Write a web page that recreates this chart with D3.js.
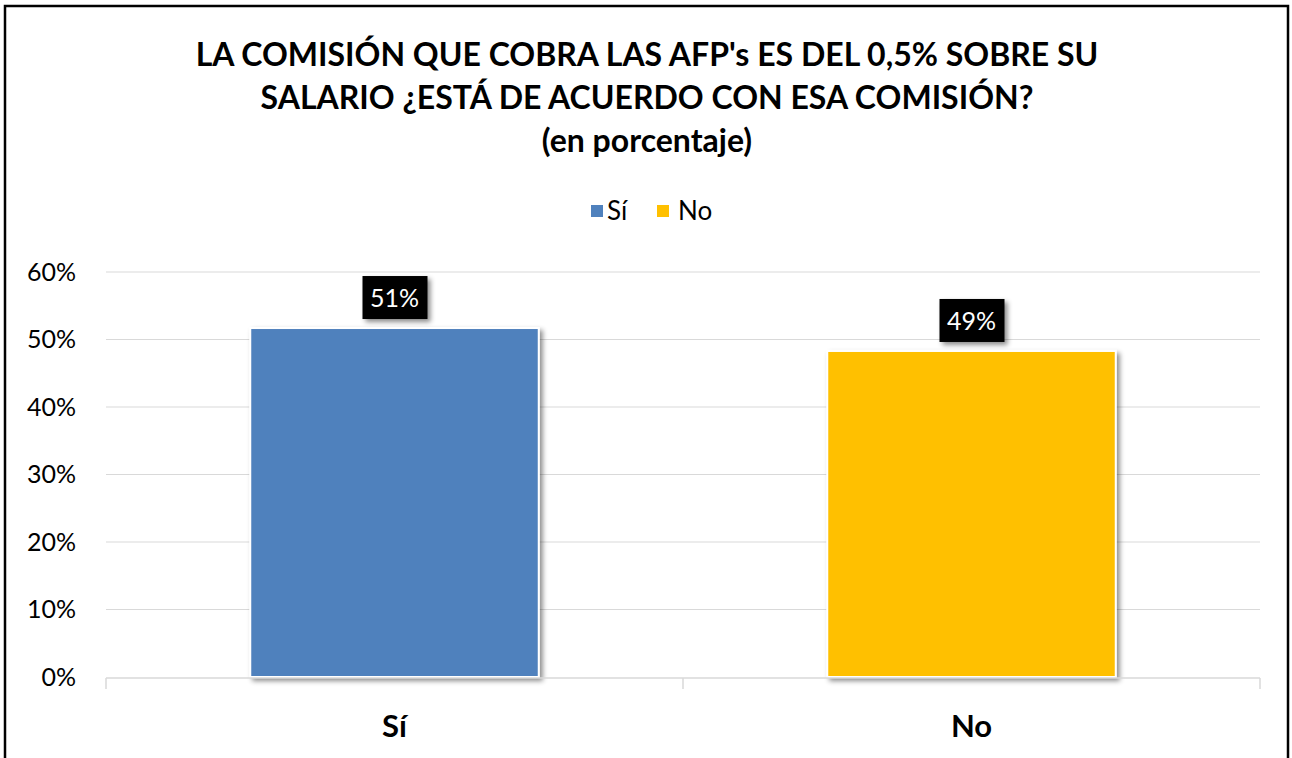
<!DOCTYPE html>
<html>
<head>
<meta charset="utf-8">
<script src="https://cdn.jsdelivr.net/npm/d3@7"></script>
<style>
  body { margin: 0; background: #fff; }
  svg { display: block; font-family: Lato, "Open Sans", sans-serif; }
</style>
</head>
<body>
<svg id="chart" width="1292" height="758"></svg>
<script>
// chart data
var categories = ["Sí", "No"];
var values = [51.7, 48.3];
var valueLabels = ["51%", "49%"];
var colors = ["#4f81bd", "#ffc000"];
var yTicks = [0, 10, 20, 30, 40, 50, 60];
var titleLines = ["LA COMISIÓN QUE COBRA LAS AFP's ES DEL 0,5% SOBRE SU",
                  "SALARIO ¿ESTÁ DE ACUERDO CON ESA COMISIÓN?",
                  "(en porcentaje)"];

var svg = d3.select("#chart");

var defs = svg.append("defs");
var shadow = defs.append("filter").attr("id", "shadow")
    .attr("x", "-20%").attr("y", "-20%").attr("width", "150%").attr("height", "150%");
shadow.append("feDropShadow")
    .attr("dx", 3).attr("dy", 3).attr("stdDeviation", 2.5)
    .attr("flood-color", "#000").attr("flood-opacity", 0.45);

// outer frame
svg.append("rect")
    .attr("x", 5).attr("y", 6)
    .attr("width", 1283).attr("height", 760)
    .attr("fill", "#fff").attr("stroke", "#000").attr("stroke-width", 2.5);

var margin = { left: 106, right: 1260, top: 272, bottom: 677 };

var x = d3.scaleBand().domain(categories).range([margin.left, margin.right]).paddingInner(0).paddingOuter(0);
var y = d3.scaleLinear().domain([0, 60]).range([margin.bottom, margin.top]);

// title
svg.append("g").selectAll("text").data(titleLines).enter().append("text")
    .attr("x", 647)
    .attr("y", function (d, i) { return 66 + i * 43; })
    .attr("text-anchor", "middle")
    .style("font-size", "32px")
    .style("font-weight", "bold")
    .attr("fill", "#000")
    .text(function (d) { return d; });

// legend
var legend = svg.append("g").attr("transform", "translate(591,211)");
var legendX = [0, 66];
var legendTextDx = [16, 21];
categories.forEach(function (c, i) {
    var g = legend.append("g").attr("transform", "translate(" + legendX[i] + ",0)");
    g.append("rect").attr("x", 0).attr("y", -6).attr("width", 12).attr("height", 12).attr("fill", colors[i]);
    g.append("text").attr("x", legendTextDx[i]).attr("y", 9)
        .style("font-size", "26px").attr("fill", "#000").text(c);
});

// gridlines
svg.append("g").selectAll("line").data(yTicks.filter(function (d) { return d > 0; }))
    .enter().append("line")
    .attr("x1", margin.left).attr("x2", margin.right)
    .attr("y1", function (d) { return y(d); })
    .attr("y2", function (d) { return y(d); })
    .attr("stroke", "#d9d9d9").attr("stroke-width", 1.2);

// y axis labels
var yAxis = d3.axisLeft(y).tickValues(yTicks).tickSize(0).tickPadding(0)
    .tickFormat(function (d) { return d + "%"; });
var yg = svg.append("g").attr("transform", "translate(76,0)").call(yAxis);
yg.select(".domain").remove();
yg.selectAll("text").style("font-size", "25px").attr("fill", "#000")
    .style("font-family", "Lato, 'Open Sans', sans-serif");

// bars
var barW = x.bandwidth() * 0.5;
svg.append("g").selectAll("rect").data(values).enter().append("rect")
    .attr("x", function (d, i) { return x(categories[i]) + (x.bandwidth() - barW) / 2; })
    .attr("y", function (d) { return y(d); })
    .attr("width", barW)
    .attr("height", function (d) { return y(0) - y(d); })
    .attr("fill", function (d, i) { return colors[i]; })
    .attr("stroke", "#fff").attr("stroke-width", 2)
    .attr("filter", "url(#shadow)");

// x axis line with ticks
var xg = svg.append("g");
xg.append("line").attr("x1", margin.left).attr("x2", margin.right)
    .attr("y1", y(0) + 1).attr("y2", y(0) + 1)
    .attr("stroke", "#d9d9d9").attr("stroke-width", 1.5);
var tickXs = [margin.left].concat(categories.map(function (c) { return x(c) + x.bandwidth(); }));
xg.selectAll(".tk").data(tickXs).enter().append("line")
    .attr("x1", function (d) { return d; }).attr("x2", function (d) { return d; })
    .attr("y1", y(0) + 1).attr("y2", y(0) + 12)
    .attr("stroke", "#d9d9d9").attr("stroke-width", 1.5);

// category labels
svg.append("g").selectAll("text").data(categories).enter().append("text")
    .attr("x", function (d) { return x(d) + x.bandwidth() / 2; })
    .attr("y", 737)
    .attr("text-anchor", "middle")
    .style("font-size", "31px").style("font-weight", "bold")
    .attr("fill", "#000")
    .text(function (d) { return d; });

// value labels
var lab = svg.append("g").selectAll("g").data(values).enter().append("g")
    .attr("transform", function (d, i) {
        return "translate(" + (x(categories[i]) + x.bandwidth() / 2) + "," + (y(d) - 30) + ")";
    });
lab.append("rect")
    .attr("x", -32).attr("y", -22).attr("width", 65).attr("height", 43)
    .attr("fill", "#000").attr("filter", "url(#shadow)");
lab.append("text")
    .attr("text-anchor", "middle").attr("y", 9)
    .style("font-size", "25px").attr("fill", "#fff")
    .text(function (d, i) { return valueLabels[i]; });
</script>
</body>
</html>
